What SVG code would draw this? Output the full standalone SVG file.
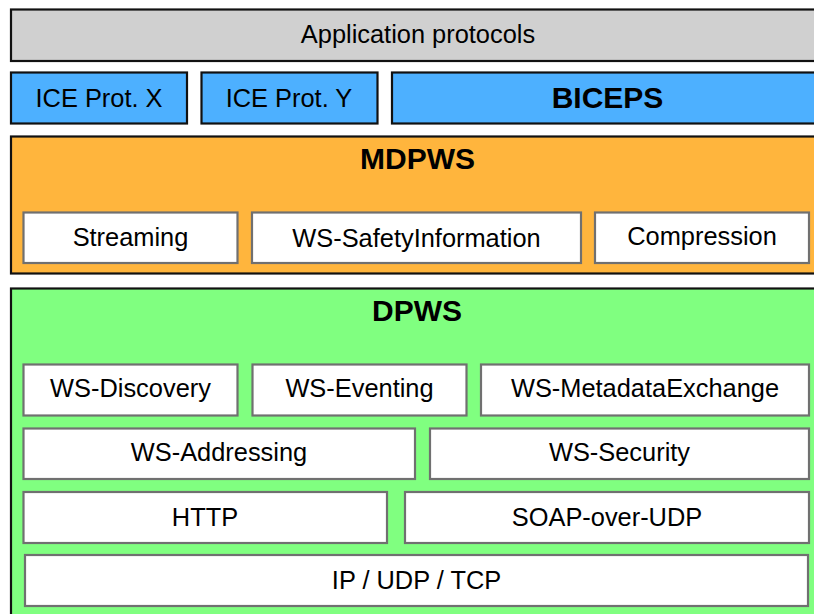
<svg xmlns="http://www.w3.org/2000/svg" width="814" height="614" viewBox="0 0 814 614">
<style>
.outer{stroke:#111;stroke-width:2.2}
.inner{fill:#fff;stroke:#707070;stroke-width:2.2}
.t{font-family:"Liberation Sans",Arial,sans-serif;font-size:25.4px;fill:#000;text-anchor:middle}
.b{font-family:"Liberation Sans",Arial,sans-serif;font-size:30px;font-weight:bold;fill:#000;text-anchor:middle}
</style>
<rect width="814" height="614" fill="#fff"/>
<g id="app">
<rect class="outer" x="11" y="9.5" width="812" height="51.5" fill="#d0d0d0"/>
<text class="t" x="418" y="43">Application protocols</text>
</g>
<g id="iceX">
<rect class="outer" x="11" y="72.5" width="176" height="51" fill="#4db0ff"/>
<text class="t" x="99" y="107">ICE Prot. X</text>
</g>
<g id="iceY">
<rect class="outer" x="201.5" y="72.5" width="176" height="51" fill="#4db0ff"/>
<text class="t" x="289" y="107">ICE Prot. Y</text>
</g>
<g id="biceps">
<rect class="outer" x="392" y="72.5" width="431" height="51" fill="#4db0ff"/>
<text class="b" x="607.5" y="108">BICEPS</text>
</g>
<g id="mdpws">
<rect class="outer" x="11" y="136.5" width="812" height="137" fill="#ffb53d"/>
<text class="b" x="417.5" y="169">MDPWS</text>
</g>
<g id="streaming">
<rect class="inner" x="23.5" y="212.5" width="214" height="50.5"/>
<text class="t" x="130.5" y="246">Streaming</text>
</g>
<g id="safety">
<rect class="inner" x="252" y="212.5" width="329" height="50.5"/>
<text class="t" x="416.5" y="247">WS-SafetyInformation</text>
</g>
<g id="compression">
<rect class="inner" x="595" y="212.5" width="214" height="50.5"/>
<text class="t" x="702" y="245">Compression</text>
</g>
<g id="dpws">
<rect class="outer" x="11" y="288.5" width="812" height="340" fill="#80ff80"/>
<text class="b" x="417" y="321">DPWS</text>
</g>
<g id="discovery">
<rect class="inner" x="23.5" y="364.5" width="214" height="51"/>
<text class="t" x="130.5" y="397">WS-Discovery</text>
</g>
<g id="eventing">
<rect class="inner" x="252.5" y="364.5" width="214" height="51"/>
<text class="t" x="359.5" y="397">WS-Eventing</text>
</g>
<g id="metadata">
<rect class="inner" x="481" y="364.5" width="328" height="51"/>
<text class="t" x="645" y="397">WS-MetadataExchange</text>
</g>
<g id="addressing">
<rect class="inner" x="23.5" y="428.5" width="391.5" height="50.5"/>
<text class="t" x="219" y="461">WS-Addressing</text>
</g>
<g id="security">
<rect class="inner" x="430" y="428.5" width="379" height="50.5"/>
<text class="t" x="619.5" y="461">WS-Security</text>
</g>
<g id="http">
<rect class="inner" x="23.5" y="492" width="363.5" height="51"/>
<text class="t" x="205" y="526">HTTP</text>
</g>
<g id="soap">
<rect class="inner" x="405" y="492" width="404" height="51"/>
<text class="t" x="607" y="526">SOAP-over-UDP</text>
</g>
<g id="ip">
<rect class="inner" x="25" y="555" width="783" height="51"/>
<text class="t" x="416.5" y="589">IP / UDP / TCP</text>
</g>
<g id="connectors"/>
</svg>
